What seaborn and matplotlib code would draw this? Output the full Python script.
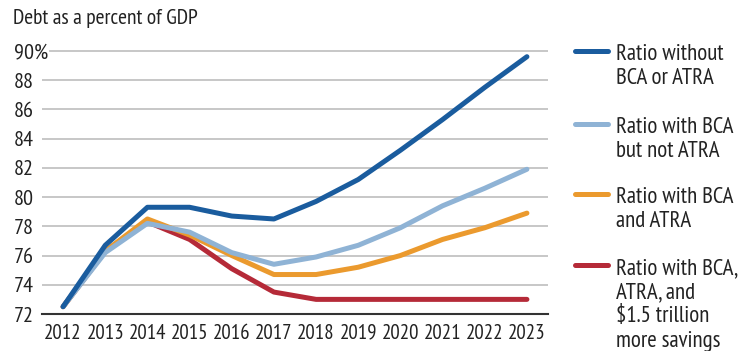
import numpy as np
import pandas as pd
import matplotlib
matplotlib.use("Agg")
import matplotlib.pyplot as plt
from matplotlib import font_manager
from matplotlib.lines import Line2D
from matplotlib.ticker import FixedLocator, FuncFormatter
import seaborn as sns

# data
years = [2012, 2013, 2014, 2015, 2016, 2017, 2018, 2019, 2020, 2021, 2022, 2023]
no_bca_atra = [72.5, 76.7, 79.3, 79.3, 78.7, 78.5, 79.7, 81.2, 83.2, 85.3, 87.5, 89.6]
bca_not_atra = [72.5, 76.2, 78.2, 77.6, 76.2, 75.4, 75.9, 76.7, 77.9, 79.4, 80.6, 81.9]
bca_and_atra = [72.5, 76.3, 78.5, 77.4, 76.0, 74.7, 74.7, 75.2, 76.0, 77.1, 77.9, 78.9]
bca_atra_savings = [72.5, 76.3, 78.3, 77.1, 75.1, 73.5, 73.0, 73.0, 73.0, 73.0, 73.0, 73.0]

labels = ["Ratio without\nBCA or ATRA",
          "Ratio with BCA\nbut not ATRA",
          "Ratio with BCA\nand ATRA",
          "Ratio with BCA,\nATRA, and\n$1.5 trillion\nmore savings"]
colors = ["#1a5c9e", "#8fb3d5", "#eb9a2e", "#b52a38"]
series = [no_bca_atra, bca_not_atra, bca_and_atra, bca_atra_savings]

df = pd.concat([pd.DataFrame({"year": years, "value": v, "series": lab})
                for v, lab in zip(series, labels)])

# original is set in a condensed humanist sans, take the closest one installed
have = {f.name for f in font_manager.fontManager.ttflist}
fam = "DejaVu Sans"
for cand in ["Myriad Pro Condensed", "PT Sans Narrow", "Asap Condensed",
             "Roboto Condensed", "Fira Sans Condensed", "Archivo Narrow"]:
    if cand in have:
        fam = cand
        break
fs = 16

sns.set_style("white")
plt.rcParams["font.family"] = [fam, "DejaVu Sans"]

fig = plt.figure(figsize=(7.44, 3.51), dpi=100)
ax = fig.add_axes([42/744, 37/351, 506/744, 269/351])

# draw red first so dark blue ends up on top
sns.lineplot(data=df, x="year", y="value", hue="series",
             hue_order=labels[::-1], palette=dict(zip(labels, colors)),
             linewidth=3.6, legend=False, ax=ax, solid_capstyle="round")

ax.set_xlim(2011.5, 2023.5)
ax.set_ylim(72, 90.4)
ax.set_xlabel("")
ax.set_ylabel("")

ax.xaxis.set_major_locator(FixedLocator(years))
ax.yaxis.set_major_locator(FixedLocator(list(range(72, 91, 2))))
ax.yaxis.set_major_formatter(FuncFormatter(lambda v, p: "90%" if v == 90 else f"{v:.0f}"))
ax.grid(axis="y", color="#bdbdbd", linewidth=1.2)
ax.set_axisbelow(True)

for s in ["top", "right", "left"]:
    ax.spines[s].set_visible(False)
ax.spines["bottom"].set_color("#333333")
ax.spines["bottom"].set_linewidth(1.5)

ax.tick_params(axis="x", direction="in", length=4, width=1, color="#333333",
               labelsize=fs - 1, pad=7, labelcolor="#222222")
ax.tick_params(axis="y", length=0, labelsize=fs, pad=20.5, labelcolor="#222222")
for t in ax.get_yticklabels():
    t.set_horizontalalignment("left")
    t.set_bbox(dict(facecolor="white", edgecolor="none", pad=1))

fig.text(13/744, 1 - 18/351, "Debt as a percent of GDP", fontsize=fs - 0.5,
         va="center", ha="left", color="#222222")

# legend on the right, handle next to the first line of each label
leg_y = [51, 124, 194, 265]
for lab, col, y in zip(labels, colors, leg_y):
    fig.add_artist(Line2D([575/744, 608/744], [1 - y/351, 1 - y/351],
                          color=col, linewidth=3.6, solid_capstyle="round"))
    fig.text(616/744, 1 - (y - 7)/351, lab, fontsize=fs + 0.5, va="top", ha="left",
             linespacing=1.2, color="#222222")

fig.savefig("out.png", dpi=100)
